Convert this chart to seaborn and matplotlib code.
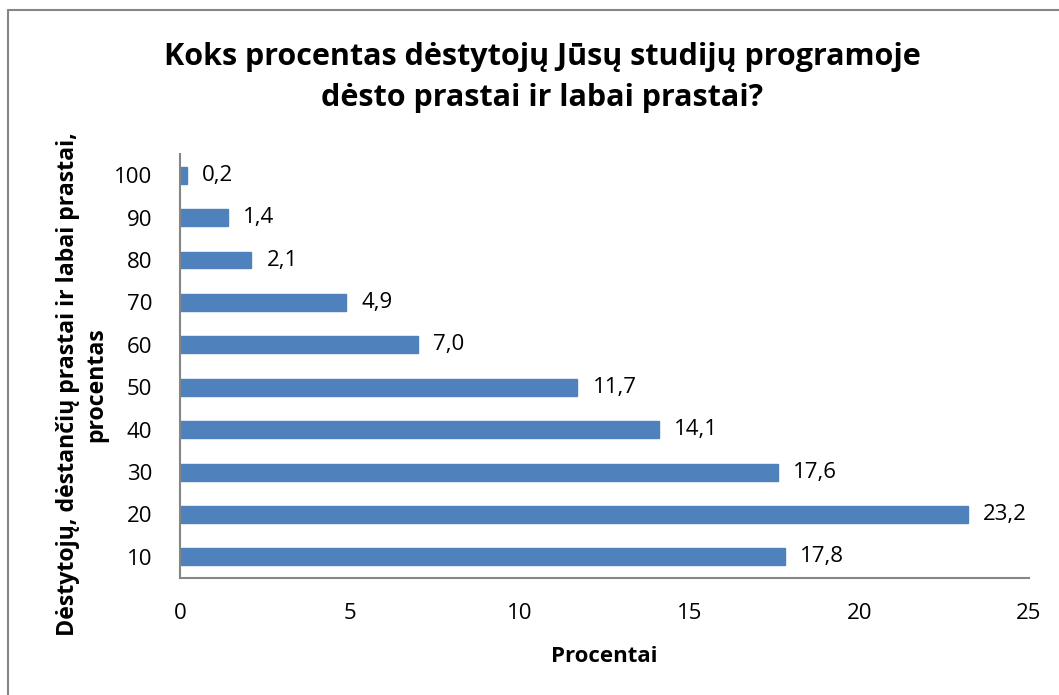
import matplotlib
matplotlib.use('Agg')
import matplotlib.pyplot as plt
from matplotlib.lines import Line2D
import seaborn as sns
import pandas as pd

# duomenys
categories = ['10', '20', '30', '40', '50', '60', '70', '80', '90', '100']
values = [17.8, 23.2, 17.6, 14.1, 11.7, 7.0, 4.9, 2.1, 1.4, 0.2]

sns.set_style('white')
plt.rcParams['font.family'] = ['Open Sans', 'DejaVu Sans']
plt.rcParams['text.color'] = 'black'
plt.rcParams['xtick.labelcolor'] = 'black'
plt.rcParams['ytick.labelcolor'] = 'black'

df = pd.DataFrame({'kat': categories[::-1], 'val': values[::-1]})

fig = plt.figure(figsize=(10.59, 6.95), dpi=100)
ax = fig.add_axes([0.170, 0.1683, 0.8017, 0.6101])

sns.barplot(data=df, x='val', y='kat', orient='h', color='#4F81BD',
            saturation=1, width=0.4, ax=ax, edgecolor='#4F81BD')

# reikšmių užrašai
for i, v in enumerate(df['val']):
    ax.text(v + 0.45, i, f'{v:.1f}'.replace('.', ','), va='center', ha='left',
            fontsize=16, color='black')

ax.set_xlim(0, 25)
ax.set_xticks([0, 5, 10, 15, 20, 25])
ax.set_ylim(len(categories) - 0.5, -0.5)
ax.tick_params(axis='x', length=6, color='#868686', labelsize=16, pad=12,
               direction='out', labelcolor='black')
ax.tick_params(axis='y', length=0, labelsize=16, pad=20, labelcolor='black')
for s in ['top', 'right']:
    ax.spines[s].set_visible(False)
for s in ['left', 'bottom']:
    ax.spines[s].set_color('#868686')
    ax.spines[s].set_linewidth(1.5)

ax.set_xlabel('')
ax.set_ylabel('')
fig.text(0.571, 0.0547, 'Procentai', ha='center', va='center', fontsize=16,
         fontweight='bold', color='black')
fig.text(0.0775, 0.447, 'Dėstytojų, dėstančių prastai ir labai prastai,\nprocentas',
         ha='center', va='center', rotation=90, fontsize=16.7, fontweight='bold',
         linespacing=1.25, color='black')

fig.text(0.512, 0.8885, 'Koks procentas dėstytojų Jūsų studijų programoje\ndėsto prastai ir labai prastai?',
         ha='center', va='center', fontsize=22, fontweight='bold', linespacing=1.45,
         color='black')

# rėmelis (matosi tik viršus ir kairė)
x0 = 8 / 1059
y0 = 1 - 9.5 / 695
fig.add_artist(Line2D([x0, 1], [y0, y0], transform=fig.transFigure, color='#868686', linewidth=1.5))
fig.add_artist(Line2D([x0, x0], [0, y0], transform=fig.transFigure, color='#868686', linewidth=1.5))

fig.savefig('out.png', dpi=100)
